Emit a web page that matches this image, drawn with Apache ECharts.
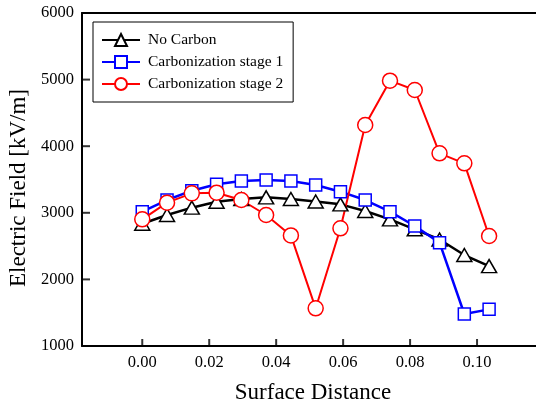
<!DOCTYPE html>
<html>
<head>
<meta charset="utf-8">
<script src="https://cdn.jsdelivr.net/npm/echarts@6/dist/echarts.min.js"></script>
<style>
  html, body { margin: 0; padding: 0; background: #fff; }
  #chart { width: 536px; height: 406px; }
</style>
</head>
<body>
<div id="chart"></div>
<script>
var surfaceDistance = [0, 0.0074, 0.0148, 0.0222, 0.0296, 0.037, 0.0444, 0.0518, 0.0592, 0.0666, 0.074, 0.0814, 0.0888, 0.0962, 0.1036];
var noCarbon = [2835, 2967, 3077, 3167, 3207, 3232, 3207, 3170, 3127, 3027, 2902, 2752, 2600, 2366, 2200];
var stage1 = [3017, 3192, 3332, 3428, 3477, 3492, 3477, 3417, 3317, 3192, 3017, 2802, 2552, 1480, 1550];
var stage2 = [2902, 3152, 3292, 3302, 3192, 2967, 2660, 1566, 2767, 4318, 4984, 4844, 3893, 3743, 2652];
var xTicks = [0, 0.02, 0.04, 0.06, 0.08, 0.10];
var yTicks = [1000, 2000, 3000, 4000, 5000, 6000];

var serif = '"Liberation Serif", "Times New Roman", serif';

// plot frame: x from -0.018 at the left axis, 0.02 per 67px
var xMin = -0.018, xMax = 0.12, yMin = 1000, yMax = 6000;

function pairs(ys) {
    var out = [];
    for (var i = 0; i < ys.length; i++) out.push([surfaceDistance[i], ys[i]]);
    return out;
}

function mkSeries(name, ys, color, symbol, size, lw) {
    return {
        name: name,
        type: 'line',
        data: pairs(ys),
        symbol: symbol,
        symbolSize: size,
        showAllSymbol: true,
        lineStyle: { color: color, width: lw },
        itemStyle: { color: '#fff', borderColor: color, borderWidth: 1.5 },
        emphasis: { disabled: true },
        z: 2
    };
}

// inward tick marks, drawn as small rects on the axes
function tickMarks(points, size, offset) {
    return {
        type: 'scatter',
        data: points,
        symbol: 'rect',
        symbolSize: size,
        symbolOffset: offset,
        itemStyle: { color: '#000' },
        clip: false,
        silent: true,
        emphasis: { disabled: true },
        z: 1
    };
}

var xTickPts = xTicks.map(function (v) { return [v, yMin]; });
var yTickPts = yTicks.map(function (v) { return [xMin, v]; });

var chart = echarts.init(document.getElementById('chart'), null, { renderer: 'canvas' });
chart.setOption({
    animation: false,
    backgroundColor: '#fff',
    textStyle: { fontFamily: serif, color: '#000' },
    grid: {
        left: 82, top: 13, right: -8, bottom: 60,
        outerBoundsMode: 'none', containLabel: false, show: false
    },
    legend: {
        left: 93, top: 22,
        orient: 'vertical',
        itemWidth: 38, itemHeight: 15, itemGap: 6,
        padding: [10, 10, 10, 8],
        borderColor: '#000', borderWidth: 1,
        backgroundColor: '#fff',
        textStyle: { fontFamily: serif, fontSize: 15.5, color: '#000', padding: [0, 0, 0, 3] },
        data: ['No Carbon', 'Carbonization stage 1', 'Carbonization stage 2']
    },
    xAxis: [{
        type: 'value',
        min: xMin, max: xMax,
        name: 'Surface Distance',
        nameLocation: 'middle',
        nameGap: 35,
        nameTextStyle: { fontFamily: serif, fontSize: 23, color: '#000' },
        axisLine: { show: true, onZero: false, lineStyle: { color: '#000', width: 2 } },
        axisTick: { show: false },
        axisLabel: {
            customValues: xTicks,
            fontFamily: serif, fontSize: 16.5, color: '#000', margin: 8,
            formatter: function (v) { return v.toFixed(2); }
        },
        splitLine: { show: false }
    }, {
        type: 'value',
        position: 'top',
        min: xMin, max: xMax,
        axisLine: { show: true, onZero: false, lineStyle: { color: '#000', width: 2 } },
        axisTick: { show: false },
        axisLabel: { show: false },
        splitLine: { show: false }
    }],
    yAxis: {
        type: 'value',
        min: yMin, max: yMax, interval: 1000,
        name: 'Electric Field [kV/m]',
        nameLocation: 'middle',
        nameGap: 48,
        nameTextStyle: { fontFamily: serif, fontSize: 23, color: '#000', padding: [0, 17, 0, 0] },
        axisLine: { show: true, onZero: false, lineStyle: { color: '#000', width: 2 } },
        axisTick: { show: false },
        axisLabel: {
            fontFamily: serif, fontSize: 16.5, color: '#000', margin: 8,
            formatter: function (v) { return String(v); }
        },
        splitLine: { show: false }
    },
    series: [
        tickMarks(xTickPts, [2, 7], [0, -3.5]),
        tickMarks(yTickPts, [8, 2], [4, 0]),
        mkSeries('No Carbon', noCarbon, '#000000', 'triangle', [15, 13], 2.5),
        mkSeries('Carbonization stage 1', stage1, '#0000ff', 'rect', 12, 2.5),
        mkSeries('Carbonization stage 2', stage2, '#ff0000', 'circle', 15, 2)
    ]
});
</script>
</body>
</html>
